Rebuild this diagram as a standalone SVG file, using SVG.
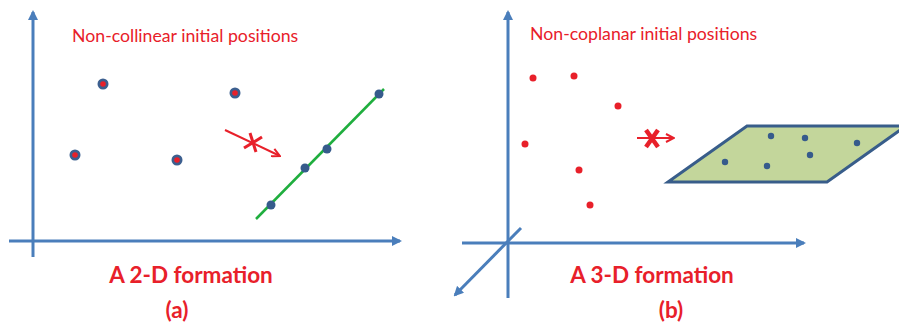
<svg xmlns="http://www.w3.org/2000/svg" width="899" height="329" viewBox="0 0 899 329">
<defs>
<marker id="ah" markerWidth="10" markerHeight="10" refX="8" refY="5" orient="auto" markerUnits="userSpaceOnUse">
<path d="M0,0 L10,5 L0,10 Z" fill="#4a7ebb"/>
</marker>
<marker id="rah" markerWidth="10" markerHeight="10" refX="8" refY="5" orient="auto" markerUnits="userSpaceOnUse">
<path d="M1,1 L9,5 L1,9" fill="none" stroke="#e8202a" stroke-width="2"/>
</marker>
</defs>
<style>
.axis{stroke:#4a7ebb;stroke-width:3;fill:none}
.lbl{font-family:Lato,"Liberation Sans",sans-serif;fill:#e8202a}
.title{font-family:Lato,"Liberation Sans",sans-serif;font-weight:bold;fill:#e8202a;text-anchor:middle}
.odot{fill:#3c5f8f}
.idot{fill:#e8202a}
.rdot{fill:#e8202a}
.bdot{fill:#365b8c}
.red{stroke:#e8202a;fill:none}
</style>
<g id="panel-a">
<line class="axis" x1="33" y1="257" x2="33" y2="12" marker-end="url(#ah)"/>
<line class="axis" x1="9" y1="241" x2="400" y2="241" marker-end="url(#ah)"/>
<text class="lbl" x="72" y="42" font-size="17.7">Non-collinear initial positions</text>
<g id="dots-a">
<circle class="odot" cx="103" cy="84" r="5.5"/><circle class="idot" cx="103" cy="84" r="2.8"/>
<circle class="odot" cx="75" cy="155" r="5.5"/><circle class="idot" cx="75" cy="155" r="2.8"/>
<circle class="odot" cx="177" cy="160" r="5.5"/><circle class="idot" cx="177" cy="160" r="2.8"/>
<circle class="odot" cx="235" cy="93" r="5.5"/><circle class="idot" cx="235" cy="93" r="2.8"/>
</g>
<g id="arrow-a">
<line class="red" x1="225" y1="130" x2="279" y2="155.5" stroke-width="2" marker-end="url(#rah)"/>
<line class="red" x1="250" y1="133" x2="256" y2="152" stroke-width="3"/>
<line class="red" x1="244" y1="148" x2="262" y2="137" stroke-width="3"/>
</g>
<g id="line-a">
<line x1="256" y1="219" x2="384" y2="89" stroke="#1fae3e" stroke-width="2.5"/>
<circle class="bdot" cx="271" cy="205" r="4.5"/>
<circle class="bdot" cx="305" cy="168" r="4.5"/>
<circle class="bdot" cx="327" cy="149" r="4.5"/>
<circle class="bdot" cx="379" cy="94" r="4.5"/>
</g>
<text class="title" x="191" y="283" font-size="22.5">A 2-D formation</text>
<text class="title" x="177" y="318" font-size="22.5">(a)</text>
</g>
<g id="panel-b">
<line class="axis" x1="508" y1="298" x2="508" y2="12" marker-end="url(#ah)"/>
<line class="axis" x1="462" y1="243" x2="804" y2="243" marker-end="url(#ah)"/>
<line class="axis" x1="521" y1="228" x2="455" y2="295" marker-end="url(#ah)"/>
<text class="lbl" x="530" y="40" font-size="17.7">Non-coplanar initial positions</text>
<g id="dots-b">
<circle class="rdot" cx="533" cy="78" r="3.5"/>
<circle class="rdot" cx="574" cy="76" r="3.5"/>
<circle class="rdot" cx="618" cy="106" r="3.5"/>
<circle class="rdot" cx="525" cy="144" r="3.5"/>
<circle class="rdot" cx="579" cy="170" r="3.5"/>
<circle class="rdot" cx="590" cy="205" r="3.5"/>
</g>
<g id="arrow-b">
<line class="red" x1="637" y1="138" x2="673" y2="138" stroke-width="2" marker-end="url(#rah)"/>
<line class="red" x1="646" y1="130" x2="658" y2="147" stroke-width="4.5"/>
<line class="red" x1="658" y1="130" x2="646" y2="147" stroke-width="4.5"/>
</g>
<g id="plane">
<polygon points="668,182 747,126 906,126 827,182" fill="#c3d69b" stroke="#385d8a" stroke-width="3" stroke-linejoin="miter"/>
<circle class="bdot" cx="771" cy="136" r="3.2"/>
<circle class="bdot" cx="805" cy="138" r="3.2"/>
<circle class="bdot" cx="857" cy="143" r="3.2"/>
<circle class="bdot" cx="810" cy="155" r="3.2"/>
<circle class="bdot" cx="725" cy="162" r="3.2"/>
<circle class="bdot" cx="767" cy="166" r="3.2"/>
</g>
<text class="title" x="652" y="283" font-size="22.5">A 3-D formation</text>
<text class="title" x="671" y="318" font-size="22.5">(b)</text>
</g>
</svg>
